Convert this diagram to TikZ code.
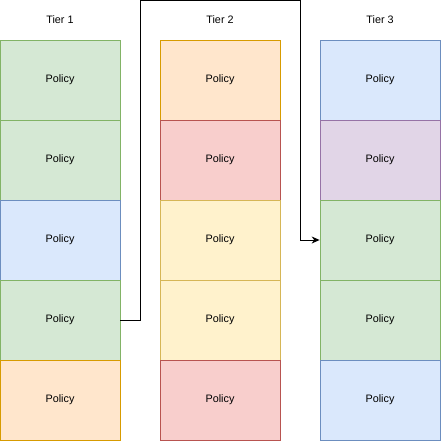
\documentclass[tikz,border=0pt]{standalone}
\usepackage{fontspec}
\setmainfont{Liberation Sans}
\usetikzlibrary{arrows.meta}
\definecolor{gF}{HTML}{D5E8D4}\definecolor{gS}{HTML}{82B366}
\definecolor{bF}{HTML}{DAE8FC}\definecolor{bS}{HTML}{6C8EBF}
\definecolor{oF}{HTML}{FFE6CC}\definecolor{oS}{HTML}{D79B00}
\definecolor{rF}{HTML}{F8CECC}\definecolor{rS}{HTML}{B85450}
\definecolor{yF}{HTML}{FFF2CC}\definecolor{yS}{HTML}{D6B656}
\definecolor{pF}{HTML}{E1D5E7}\definecolor{pS}{HTML}{9673A6}
\tikzset{
  cell/.style={draw=#1S, fill=#1F, line width=0.75pt, minimum width=120pt, minimum height=80pt, inner sep=0pt, font=\fontsize{10.8}{12}\selectfont, text=black},
  title/.style={font=\fontsize{10.8}{12}\selectfont, inner sep=0pt},
  conn/.style={draw=black, line width=0.9pt, -{Stealth[length=8pt,width=7pt]}}
}
\begin{document}
\begin{tikzpicture}[x=1pt,y=-1pt]
\useasboundingbox (0,0) rectangle (441,441);
\node[title] (t1) at (60,20) {Tier 1};
\node[title] (t2) at (220,20) {Tier 2};
\node[title] (t3) at (380,20) {Tier 3};
\foreach \c [count=\i] in {g,g,b,g,o} {
  \node[cell=\c] (a\i) at (60,{80*\i}) {Policy};
}
\foreach \c [count=\i] in {o,r,y,y,r} {
  \node[cell=\c] (b\i) at (220,{80*\i}) {Policy};
}
\foreach \c [count=\i] in {b,p,g,g,b} {
  \node[cell=\c] (c\i) at (380,{80*\i}) {Policy};
}
\coordinate (p1) at (140,0.8);
\coordinate (p2) at (300,0.8);
\draw[conn] (a4.east) -| (p1) -- (p2) |- (c3.west);
\end{tikzpicture}
\end{document}
